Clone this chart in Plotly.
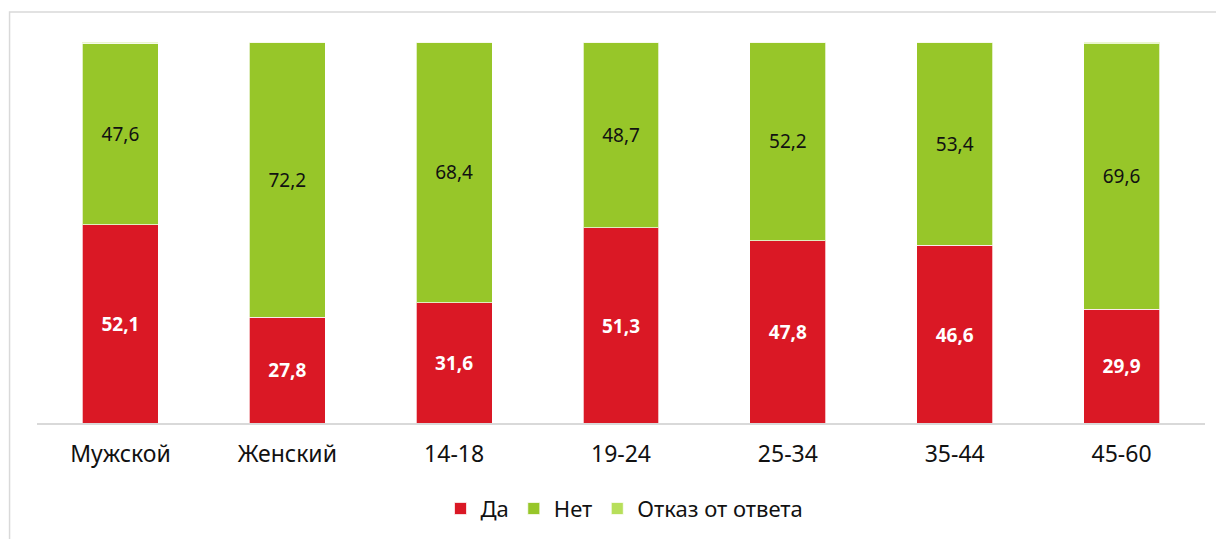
import plotly.graph_objects as go

categories = ["Мужской", "Женский", "14-18", "19-24", "25-34", "35-44", "45-60"]
da = [52.1, 27.8, 31.6, 51.3, 47.8, 46.6, 29.9]
net = [47.6, 72.2, 68.4, 48.7, 52.2, 53.4, 69.6]
otkaz = [0.3, 0.0, 0.0, 0.0, 0.0, 0.0, 0.5]

def fmt(v):
    return f"{v:.1f}".replace(".", ",")

FONT = "Noto Sans"
line = dict(color="rgba(255,255,255,0.7)", width=1)

fig = go.Figure()
fig.add_trace(go.Bar(
    name="Да", x=categories, y=da, marker=dict(color="#DA1825", line=line),
    text=[fmt(v) for v in da], textposition="inside", insidetextanchor="middle",
    textfont=dict(family=FONT, size=26, color="white", weight="bold"),
    hoverinfo="skip"))
fig.add_trace(go.Bar(
    name="Нет", x=categories, y=net, marker=dict(color="#97C629", line=line),
    text=[fmt(v) for v in net], textposition="inside", insidetextanchor="middle",
    textfont=dict(family=FONT, size=19, color="#111111"),
    hoverinfo="skip"))
fig.add_trace(go.Bar(
    name="Отказ от ответа", x=categories, y=otkaz, marker=dict(color="#B7DF5A", line=line),
    hoverinfo="skip"))

fig.update_layout(
    barmode="stack",
    bargap=0.545,
    width=1224, height=539,
    margin=dict(l=29, r=27, t=34, b=124),
    paper_bgcolor="white", plot_bgcolor="white",
    font=dict(family=FONT, color="#111111"),
    uniformtext=dict(mode="show", minsize=8),
    legend=dict(orientation="h", x=0.503, xanchor="center", y=-0.225, yanchor="middle",
                font=dict(family=FONT, size=22, color="#111111"),
                traceorder="normal", itemwidth=30),
    xaxis=dict(showline=True, linecolor="#D9D9D9", linewidth=1.5, ticks="",
               ticklabelstandoff=10,
               tickfont=dict(family=FONT, size=23, color="#111111"), showgrid=False),
    yaxis=dict(range=[0, 100], visible=False, showgrid=False),
    shapes=[dict(type="rect", xref="paper", yref="paper",
                 x0=-0.0235, x1=1.03, y0=-0.35, y1=1.0787,
                 line=dict(color="#D9D9D9", width=1.5), layer="below")],
)

fig.write_html("out.html")
